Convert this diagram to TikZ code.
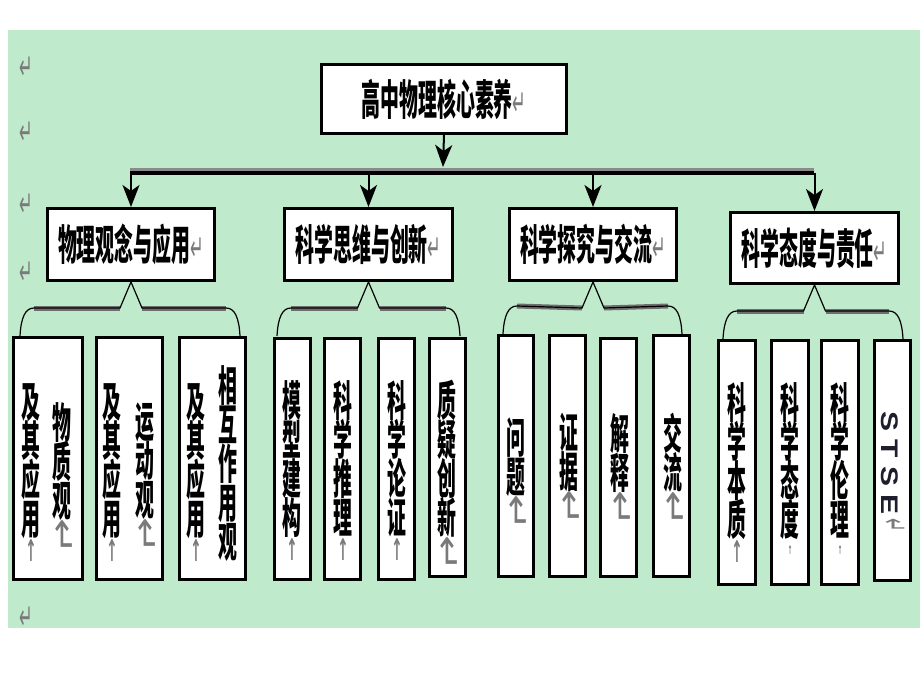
\documentclass[tikz,border=0pt]{standalone}
\usepackage{graphicx}
\usepackage{fontspec}
\newfontfamily\cjk{Noto Sans CJK SC}
\newfontfamily\dv{DejaVu Sans}
\newfontfamily\lsans{Liberation Sans}
\usetikzlibrary{arrows.meta,calc}
\definecolor{bggreen}{HTML}{C0EACC}
\definecolor{mkgray}{HTML}{7A7A7A}
\definecolor{shadowgray}{HTML}{6E6E6E}
\definecolor{stsecol}{HTML}{1E1E2E}
\setlength{\lineskiplimit}{-100pt}
\newcommand{\hz}[1]{\scalebox{0.45}[1]{#1}}
\newcommand{\mk}{{\color{mkgray}\dv\mdseries\fontsize{36}{36}\selectfont\scalebox{0.45}[1]{↵}}}
\newcommand{\mkv}{{\color{mkgray}\dv\mdseries\fontsize{44}{44}\selectfont\scalebox{1.6}[1]{\rotatebox{-90}{↵}}}}
\newcommand{\mku}{{\color{mkgray}\dv\bfseries\fontsize{30}{30}\selectfont ↑}}
\newcommand{\mkt}{{\color{mkgray}\dv\bfseries\fontsize{12}{12}\selectfont ↑}}
\begin{document}
\begin{tikzpicture}[x=1pt,y=-1pt,
  box/.style={draw=black, line width=3pt, fill=white, inner sep=0pt,
    font=\cjk\bfseries\fontsize{42}{42}\selectfont},
  leaf/.style={draw=black, line width=3pt, fill=white, inner sep=0pt},
  vt/.style={font=\cjk\bfseries\fontsize{42}{39}\selectfont,
    align=center, inner sep=0pt, xscale=0.45, anchor=north},
  margmk/.style={inner sep=0pt},
  conn/.style={draw=black, line width=2pt, -{Stealth[length=22pt,width=17pt,inset=6pt]}},
  brace/.style={draw=black, line width=1.2pt},
  arm/.style={draw=shadowgray, line width=5pt},
  hbar/.style={draw=black, line width=4pt},
  hshadow/.style={draw=shadowgray!80, line width=3pt}]
\useasboundingbox (0,0) rectangle (920,690);
\fill[white] (0,0) rectangle (920,690);
\fill[bggreen] (8,30) rectangle (920,628);

% margin paragraph marks
\node[margmk] (m1) at (26,68) {\mk};
\node[margmk] (m2) at (26,133) {\mk};
\node[margmk] (m3) at (26,205) {\mk};
\node[margmk] (m4) at (26,273) {\mk};
\node[margmk] (m5) at (26,618) {\mk};

% top box
\node[box, minimum width=245pt, minimum height=69pt] (top) at (444,99) {\hz{高中物理核心素养}\mk};

% level 2 boxes
\node[box, minimum width=167pt, minimum height=72pt] (c1) at (131,244.5) {\hz{物理观念与应用}\mk};
\node[box, minimum width=168pt, minimum height=72pt] (c2) at (368.5,244.5) {\hz{科学思维与创新}\mk};
\node[box, minimum width=167pt, minimum height=72pt] (c3) at (593,244.5) {\hz{科学探究与交流}\mk};
\node[box, minimum width=168pt, minimum height=71pt] (c4) at (814.5,248) {\hz{科学态度与责任}\mk};

% connectors
\coordinate (hub) at (443,167);
\coordinate (hL) at (130,173);
\coordinate (hR) at (814,173);
\draw[hshadow] ($(hL)+(0,-4)$) -- ($(hR)+(0,-4)$);
\draw[hbar] (hL) -- (hR);
\draw[conn] (top.south) -- (hub);
\draw[conn] (c1.north |- hL) -- (c1.north);
\draw[conn] (c2.north |- hL) -- (c2.north);
\draw[conn] (c3.north |- hL) -- (c3.north);
\draw[conn] (c4.north |- hL) -- (c4.north);

% leaves group 1
\node[leaf, minimum width=69pt, minimum height=242pt] (l11) at (48,458.5) {};
\node[leaf, minimum width=66pt, minimum height=242pt] (l12) at (129.5,458.5) {};
\node[leaf, minimum width=66pt, minimum height=242pt] (l13) at (212.5,458.5) {};
% group 2
\node[leaf, minimum width=36pt, minimum height=241pt] (l21) at (292.5,459) {};
\node[leaf, minimum width=36pt, minimum height=241pt] (l22) at (342.5,459) {};
\node[leaf, minimum width=36pt, minimum height=241pt] (l23) at (396.5,459) {};
\node[leaf, minimum width=36pt, minimum height=238pt] (l24) at (447.5,457.5) {};
% group 3
\node[leaf, minimum width=35pt, minimum height=241pt] (l31) at (516,456) {};
\node[leaf, minimum width=36pt, minimum height=241pt] (l32) at (567.5,456) {};
\node[leaf, minimum width=36pt, minimum height=238pt] (l33) at (618.5,457.5) {};
\node[leaf, minimum width=36pt, minimum height=241pt] (l34) at (671.5,456) {};
% group 4
\node[leaf, minimum width=37pt, minimum height=244pt] (l41) at (737,462.5) {};
\node[leaf, minimum width=37pt, minimum height=244pt] (l42) at (789.5,462.5) {};
\node[leaf, minimum width=37pt, minimum height=244pt] (l43) at (840,462.5) {};
\node[leaf, minimum width=36pt, minimum height=240pt] (l44) at (892.5,460.5) {};

% braces
\coordinate (b1l) at (20,336);  \coordinate (b1r) at (240,336);
\coordinate (b2l) at (277,336); \coordinate (b2r) at (460,336);
\coordinate (b3l) at (503,334); \coordinate (b3r) at (682,334);
\coordinate (b4l) at (723,339); \coordinate (b4r) at (903,339);
\foreach \i in {1,2,3,4}{
  \draw[arm] ($(b\i l)+(14,-28)$) -- ($(c\i.south)+(-11,26)$);
  \draw[arm] ($(c\i.south)+(11,26)$) -- ($(b\i r)+(-14,-28)$);
  \draw[brace] (b\i l) .. controls +(1,-18) and +(-9,0) .. ($(b\i l)+(14,-28)$)
    -- ($(c\i.south)+(-11,26)$) -- (c\i.south) -- ($(c\i.south)+(11,26)$)
    -- ($(b\i r)+(-14,-28)$) .. controls +(9,0) and +(-1,-18) .. (b\i r);
}

% vertical texts group 1
\node[vt] (t11a) at (62,402) {物\\质\\观\\[-37pt]\mkv};
\node[vt] (t11b) at (31,383) {及\\其\\应\\用\\[-12pt]\mku};
\node[vt] (t12a) at (145,403) {运\\动\\观\\[-37pt]\mkv};
\node[vt] (t12b) at (112,383) {及\\其\\应\\用\\[-12pt]\mku};
\node[vt] (t13a) at (228,365) {相\\互\\作\\用\\观};
\node[vt] (t13b) at (196,383) {及\\其\\应\\用\\[-12pt]\mku};
% group 2
\node[vt] (t21) at (292,380) {模\\型\\建\\构\\[-12pt]\mku};
\node[vt] (t22) at (343,380) {科\\学\\推\\理\\[-12pt]\mku};
\node[vt] (t23) at (397,380) {科\\学\\论\\证\\[-12pt]\mku};
\node[vt] (t24) at (447,380) {质\\疑\\创\\新\\[-37pt]\mkv};
% group 3
\node[vt] (t31) at (516,418) {问\\题\\[-37pt]\mkv};
\node[vt] (t32) at (569,413) {证\\据\\[-37pt]\mkv};
\node[vt] (t33) at (620,413) {解\\释\\[-37pt]\mkv};
\node[vt] (t34) at (673,413) {交\\流\\[-37pt]\mkv};
% group 4
\node[vt] (t41) at (737,382) {科\\学\\本\\质\\[-12pt]\mku};
\node[vt] (t42) at (790,382) {科\\学\\态\\度\\[-20pt]\mkt};
\node[vt] (t43) at (840,382) {科\\学\\伦\\理\\[-20pt]\mkt};
\node[rotate=-90, inner sep=0pt, text=stsecol, font=\lsans\bfseries\fontsize{24}{24}\selectfont] (t44) at (893,472) {\scalebox{1.25}[1]{S T S E}\,\mk};
\end{tikzpicture}
\end{document}
